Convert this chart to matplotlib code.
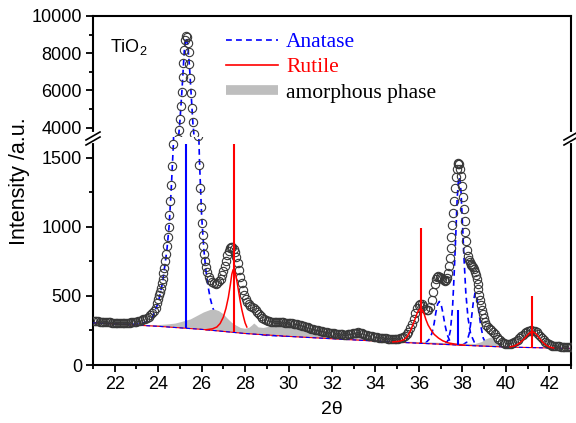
import numpy as np
import matplotlib
matplotlib.use("Agg")
import matplotlib.pyplot as plt
from matplotlib.lines import Line2D

plt.rcParams["font.family"] = ["Liberation Sans", "DejaVu Sans"]
plt.rcParams["mathtext.default"] = "regular"

# observed XRD pattern (circles)
tt_obs = [
    21.00, 21.08, 21.16, 21.24, 21.32, 21.40, 21.48, 21.56, 21.64, 21.72, 21.80, 21.88,
    21.96, 22.04, 22.12, 22.20, 22.28, 22.36, 22.44, 22.52, 22.60, 22.68, 22.76, 22.84,
    22.92, 23.00, 23.08, 23.16, 23.24, 23.32, 23.40, 23.48, 23.56, 23.64, 23.72, 23.80,
    23.88, 23.96, 24.00, 24.04, 24.08, 24.12, 24.16, 24.20, 24.24, 24.28, 24.32,
    24.36, 24.40, 24.44, 24.48, 24.52, 24.56, 24.60, 24.64, 24.68, 24.72, 24.76, 24.80,
    24.84, 24.88, 24.92, 24.96, 25.00, 25.04, 25.08, 25.12, 25.16, 25.20, 25.24, 25.28,
    25.32, 25.36, 25.40, 25.44, 25.48, 25.52, 25.56, 25.60, 25.64, 25.68, 25.72, 25.76,
    25.80, 25.84, 25.88, 25.92, 25.96, 26.00, 26.04, 26.08, 26.12, 26.16, 26.20, 26.26,
    26.32, 26.40, 26.48, 26.56, 26.64, 26.72, 26.80, 26.88, 26.94, 27.00, 27.06, 27.12,
    27.18, 27.24, 27.30, 27.36, 27.42, 27.48, 27.54, 27.60, 27.66, 27.72, 27.78, 27.84,
    27.90, 27.96, 28.02, 28.08, 28.16, 28.24, 28.32, 28.40, 28.48, 28.56, 28.64, 28.72,
    28.80, 28.88, 28.96, 29.04, 29.12, 29.20, 29.28, 29.36, 29.44, 29.52, 29.60, 29.68,
    29.76, 29.84, 29.92, 30.00, 30.08, 30.16, 30.24, 30.32, 30.40, 30.48, 30.56, 30.64,
    30.72, 30.80, 30.88, 30.96, 31.04, 31.12, 31.20, 31.28, 31.36, 31.44, 31.52, 31.60,
    31.68, 31.76, 31.84, 31.92, 32.00, 32.08, 32.16, 32.24, 32.32, 32.40, 32.48, 32.56,
    32.64, 32.72, 32.80, 32.88, 32.96, 33.04, 33.12, 33.20, 33.28, 33.36, 33.44, 33.52,
    33.60, 33.68, 33.76, 33.84, 33.92, 34.00, 34.08, 34.16, 34.24, 34.32, 34.40, 34.48,
    34.56, 34.64, 34.72, 34.80, 34.88, 34.96, 35.04, 35.12, 35.20, 35.28, 35.36, 35.44,
    35.52, 35.60, 35.68, 35.76, 35.84, 35.92, 36.00, 36.06, 36.12, 36.20, 36.28, 36.36,
    36.44, 36.52, 36.60, 36.66, 36.72, 36.78, 36.84, 36.90, 36.96, 37.02, 37.08, 37.14,
    37.20, 37.26, 37.30, 37.34, 37.38, 37.42, 37.46, 37.50, 37.54, 37.58, 37.62, 37.66,
    37.70, 37.74, 37.78, 37.82, 37.86, 37.90, 37.94, 37.98, 38.02, 38.06, 38.10, 38.14,
    38.18, 38.22, 38.26, 38.30, 38.34, 38.38, 38.42, 38.46, 38.50, 38.54, 38.58, 38.62,
    38.66, 38.70, 38.74, 38.78, 38.82, 38.86, 38.90, 38.94, 38.98, 39.04, 39.10, 39.18,
    39.26, 39.34, 39.42, 39.50, 39.58, 39.66, 39.74, 39.82, 39.90, 39.98, 40.06, 40.14,
    40.22, 40.30, 40.38, 40.46, 40.54, 40.62, 40.70, 40.78, 40.86, 40.94, 41.02, 41.10,
    41.18, 41.26, 41.34, 41.42, 41.50, 41.58, 41.66, 41.74, 41.82, 41.90, 41.98, 42.06,
    42.14, 42.22, 42.30, 42.38, 42.46, 42.54, 42.62, 42.70, 42.78, 42.86, 42.94, 43.00,
]
i_obs = [
    318, 317, 316, 315, 314, 313, 312, 311, 310, 309, 308, 307,
    306, 305, 305, 304, 304, 304, 305, 305, 306, 307, 308, 310,
    312, 314, 317, 320, 325, 330, 336, 342, 350, 360, 373, 390,
    415, 450, 480, 505, 530, 560, 590, 625, 665, 705, 750,
    800, 860, 925, 1000, 1085, 1185, 1300, 1440, 1600, 1790, 2010, 2270,
    2580, 2950, 3400, 3900, 4480, 5150, 5900, 6700, 7500, 8200, 8700, 8900,
    8850, 8550, 8050, 7400, 6650, 5850, 5050, 4300, 3650, 3100, 2630, 2240,
    1920, 1660, 1450, 1280, 1140, 1030, 940, 860, 800, 750, 710, 670,
    640, 615, 600, 590, 588, 592, 605, 625, 650, 680, 715, 755,
    795, 825, 845, 855, 852, 840, 815, 780, 735, 690, 640, 590,
    545, 505, 475, 455, 440, 425, 418, 410, 400, 385, 368, 352,
    340, 330, 323, 318, 315, 313, 312, 311, 311, 310, 310, 309,
    308, 307, 306, 305, 303, 301, 299, 297, 294, 291, 287, 283,
    280, 276, 272, 268, 264, 260, 256, 253, 250, 247, 244, 241,
    239, 236, 234, 232, 230, 228, 227, 225, 223, 222, 221, 220,
    220, 221, 222, 225, 228, 232, 235, 236, 234, 230, 225, 220,
    216, 213, 210, 207, 204, 202, 200, 198, 196, 194, 193, 192,
    191, 190, 189, 189, 189, 190, 191, 193, 195, 201, 210, 224,
    240, 265, 297, 335, 375, 410, 433, 441, 438, 425, 408, 396,
    398, 420, 470, 530, 585, 620, 638, 645, 640, 630, 620, 612,
    606, 612, 630, 665, 715, 775, 845, 925, 1010, 1100, 1190, 1280,
    1360, 1420, 1455, 1465, 1455, 1420, 1365, 1295, 1215, 1130, 1045, 965,
    895, 835, 790, 760, 742, 732, 725, 718, 708, 695, 676, 652,
    622, 588, 550, 510, 470, 432, 398, 368, 342, 312, 290, 272,
    260, 250, 238, 222, 205, 190, 178, 168, 160, 154, 150, 149,
    151, 156, 163, 172, 183, 195, 207, 219, 230, 239, 245, 249,
    251, 249, 244, 236, 225, 212, 198, 184, 170, 159, 151, 145,
    141, 138, 136, 135, 134, 133, 133, 132, 131, 131, 130, 130,
]

# background line
base_x = [21, 24, 26, 28, 30, 32, 35, 38, 40, 43]
base_y = [305, 280, 258, 228, 207, 190, 165, 143, 130, 120]

# amorphous phase (upper edge of the grey area)
am_x = [22.5, 23.0, 23.5, 24.0, 24.4, 24.8, 25.1, 25.5, 25.8, 26.1, 26.4, 26.6, 26.8,
        27.0, 27.2, 27.4, 27.6, 27.8, 28.0, 28.2, 28.32, 28.42, 28.5, 28.62, 28.85,
        29.1, 29.4, 29.8, 30.2, 30.6, 31.0, 31.5, 32.0, 32.5, 32.9, 33.15, 33.4, 33.8,
        34.2, 34.6, 35.0, 36.0, 37.0, 38.0, 38.6, 38.9, 39.1, 39.3, 39.5, 39.7, 40.0]
am_y = [292, 290, 288, 289, 293, 300, 312, 330, 355, 380, 398, 401, 390,
        368, 335, 305, 285, 268, 262, 270, 285, 300, 290, 272, 268,
        276, 292, 300, 300, 290, 266, 240, 220, 206, 205, 224, 206, 190,
        182, 176, 171, 166, 160, 154, 152, 166, 186, 198, 184, 152, 130]

# anatase fitted peaks
a101_x = [21.0, 22.0, 22.6, 23.0, 23.4, 23.7, 24.0, 24.2, 24.4, 24.5, 24.6, 24.7, 24.8,
          24.9, 25.0, 25.1, 25.2, 25.28, 25.36, 25.44, 25.52, 25.6, 25.7, 25.8, 25.9,
          26.0, 26.1, 26.2, 26.3, 26.4, 26.5, 26.6, 26.8, 27.0, 27.4, 28.0, 29.0, 30.0]
a101_y = [306, 298, 294, 296, 308, 335, 450, 595, 830, 1000, 1270, 1600, 2150,
          2950, 4350, 6100, 8100, 8850, 8450, 7300, 5750, 4200, 2950, 2080, 1480,
          1080, 840, 680, 565, 480, 420, 375, 318, 290, 262, 236, 215, 208]
a103_x = [36.3, 36.5, 36.6, 36.7, 36.78, 36.86, 36.94, 37.02, 37.1, 37.2, 37.3, 37.42, 37.6]
a103_y = [158, 190, 230, 300, 380, 440, 460, 440, 380, 290, 220, 175, 148]
a004_x = [37.2, 37.35, 37.45, 37.55, 37.62, 37.7, 37.76, 37.82, 37.88, 37.94, 38.0,
          38.08, 38.16, 38.26, 38.38, 38.55, 38.8]
a004_y = [150, 180, 250, 420, 650, 950, 1200, 1340, 1360, 1250, 1040,
          760, 520, 340, 225, 165, 138]
a112_x = [38.0, 38.2, 38.32, 38.42, 38.5, 38.58, 38.66, 38.74, 38.84, 38.96, 39.1, 39.3]
a112_y = [144, 165, 230, 340, 450, 520, 500, 410, 290, 195, 152, 136]

# rutile fitted peaks
r110_x = [26.2, 26.5, 26.7, 26.85, 27.0, 27.12, 27.23, 27.32, 27.39, 27.45, 27.5, 27.56,
          27.62, 27.7, 27.77, 27.85, 27.93, 28.0, 28.08]
r110_y = [255, 262, 275, 300, 347, 410, 490, 580, 658, 690, 694, 660,
          610, 535, 467, 400, 347, 305, 275]
r101_x = [34.8, 35.1, 35.3, 35.45, 35.6, 35.72, 35.84, 35.93, 36.02, 36.09, 36.16, 36.24,
          36.32, 36.42, 36.55, 36.7, 36.9, 37.1, 37.35, 37.7, 38.1]
r101_y = [167, 172, 182, 203, 243, 290, 340, 380, 402, 407, 398, 370,
          330, 290, 255, 222, 195, 175, 160, 150, 143]
r111_x = [40.2, 40.4, 40.6, 40.8, 40.95, 41.08, 41.2, 41.3, 41.42, 41.56, 41.7, 41.85, 42.0, 42.2]
r111_y = [131, 138, 155, 182, 208, 230, 241, 237, 220, 192, 164, 144, 130, 123]

# reference (standard) positions
an_ref_x = [25.28, 37.82]
an_ref_top = [1600, 395]
an_ref_bot = [266, 144]
ru_ref_x = [27.47, 36.10, 41.21]
ru_ref_top = [1600, 993, 502]
ru_ref_bot = [236, 157, 126]

BLUE = "#0000ff"
RED = "#ff0000"
GREY = "#bebebe"
DASH = (0, (3.5, 2.5))


def draw(ax):
    inside = [(x, y) for x, y in zip(base_x[::-1], base_y[::-1]) if am_x[0] < x < am_x[-1]]
    poly_x = list(am_x) + [p[0] for p in inside]
    poly_y = list(am_y) + [p[1] for p in inside]
    for xs, ys in [(a101_x, a101_y), (a103_x, a103_y), (a004_x, a004_y), (a112_x, a112_y)]:
        ax.plot(xs, ys, color=BLUE, ls=DASH, lw=1.2, zorder=1.5)
    ax.fill(poly_x, poly_y, color=GREY, lw=0, zorder=2)
    ax.plot(base_x, base_y, color=RED, lw=0.8, zorder=2.5)
    ax.plot(base_x, base_y, color=BLUE, ls=DASH, lw=0.8, zorder=2.6)
    ax.plot(tt_obs, i_obs, ls="none", marker="o", ms=6, mfc="none",
            mec="#383838", mew=0.8, zorder=3)
    for xs, ys in [(r110_x, r110_y), (r101_x, r101_y), (r111_x, r111_y)]:
        ax.plot(xs, ys, color=RED, lw=1.1, zorder=4)
    ax.vlines(an_ref_x, an_ref_bot, an_ref_top, color=BLUE, lw=1.5, zorder=4)
    ax.vlines(ru_ref_x, ru_ref_bot, ru_ref_top, color=RED, lw=1.5, zorder=4)


fig = plt.figure(figsize=(5.76, 4.23), dpi=100)
ax_top = fig.add_axes([93 / 576, 1 - 137 / 423, 478 / 576, 121 / 423])
ax_bot = fig.add_axes([93 / 576, 1 - 365 / 423, 478 / 576, 228 / 423])

for ax in (ax_top, ax_bot):
    draw(ax)
    ax.set_xlim(21, 43)
    for s in ax.spines.values():
        s.set_linewidth(1.5)
    ax.tick_params(which="both", direction="out", width=1.3, labelsize=13, pad=3)
    ax.tick_params(which="major", length=5)
    ax.tick_params(which="minor", length=3)

ax_top.set_ylim(3500, 10000)
ax_top.set_yticks([4000, 6000, 8000, 10000])
ax_top.set_yticks([5000, 7000, 9000], minor=True)
ax_top.spines["bottom"].set_visible(False)
ax_top.tick_params(which="both", bottom=False, labelbottom=False)
ax_top.set_xticks([])
ax_top.set_xticks([], minor=True)

ax_bot.set_ylim(0, 1650)
ax_bot.set_yticks([0, 500, 1000, 1500])
ax_bot.set_yticks([250, 750, 1250], minor=True)
ax_bot.set_xticks(np.arange(22, 43, 2))
ax_bot.set_xticks(np.arange(21, 44, 2), minor=True)
ax_bot.spines["top"].set_visible(False)
ax_bot.set_xlabel("2θ", fontsize=14, labelpad=6)

fig.text(20 / 576, 1 - 181 / 423, "Intensity /a.u.", rotation=90,
         ha="center", va="center", fontsize=15.5)

ax_top.text(0.036, 0.74, "TiO$_2$", transform=ax_top.transAxes,
            ha="left", va="center", fontsize=13)

handles = [
    Line2D([], [], color=BLUE, ls=DASH, lw=1.2),
    Line2D([], [], color=RED, lw=1.2),
    Line2D([], [], color=GREY, lw=7, solid_capstyle="butt"),
]
ax_top.legend(handles, ["Anatase", "Rutile", "amorphous phase"],
              loc="upper left", bbox_to_anchor=(226 / 576, 1 - 32 / 423),
              bbox_transform=fig.transFigure, frameon=False,
              prop={"family": "Liberation Serif", "size": 15.5},
              handlelength=2.4, handletextpad=0.4, labelspacing=0.24,
              borderpad=0, borderaxespad=0,
              labelcolor=[BLUE, RED, "black"])


# axis break marks
def px(x, y):
    return x / 576, 1 - y / 423


for xs in (93, 571):
    fig.add_artist(Line2D(*zip(px(xs, 134), px(xs, 141)), color="white", lw=3))
    for dy in (0, 5):
        (x0, y0), (x1, y1) = px(xs - 7, 140 + dy), px(xs + 7, 132 + dy)
        fig.add_artist(Line2D([x0, x1], [y0, y1], color="black", lw=1.2))

fig.savefig("out.png", dpi=100)
